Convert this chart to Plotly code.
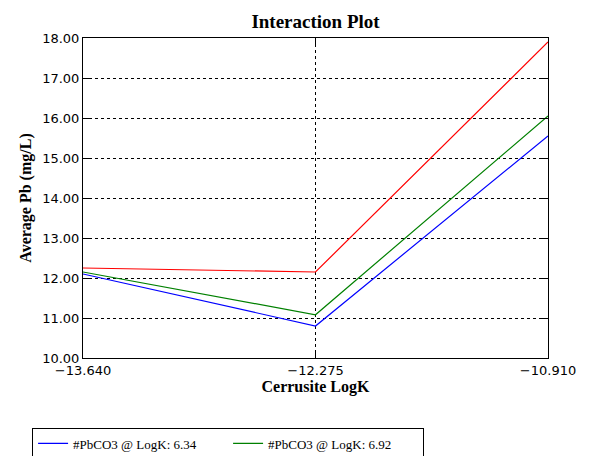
import plotly.graph_objects as go

x_vals = [-13.640, -12.275, -10.910]
tick_text = ["\u221213.640", "\u221212.275", "\u221210.910"]
series_names = ["#PbCO3 @ LogK: 6.34", "#PbCO3 @ LogK: 6.92", "#PbCO3 @ LogK: 7.5"]
blue_vals = [12.10, 10.80, 15.55]
green_vals = [12.15, 11.08, 16.05]
red_vals = [12.25, 12.15, 17.90]
colors = ["blue", "green", "red"]

fig = go.Figure()
for name, vals, c in zip(series_names, [blue_vals, green_vals, red_vals], colors):
    fig.add_trace(go.Scatter(x=x_vals, y=vals, mode="lines", name=name,
                             line=dict(color=c, width=1.2)))

axis_common = dict(showline=True, linecolor="black", linewidth=1, mirror="ticks",
                   ticks="inside", ticklen=6, tickcolor="black", automargin=False,
                   showgrid=True, gridcolor="black", griddash="dot", gridwidth=1,
                   zeroline=False, tickfont=dict(family="DejaVu Sans", size=13, color="black"))

fig.update_xaxes(range=[-13.640, -10.910], tickvals=x_vals, ticktext=tick_text,
                 title=dict(text="<b>Cerrusite LogK</b>", standoff=4,
                            font=dict(family="Liberation Serif", size=16, color="black")),
                 **axis_common)
fig.update_yaxes(range=[10, 18], dtick=1, tickformat=".2f",
                 title=dict(text="<b>Average Pb (mg/L)</b>", standoff=6,
                            font=dict(family="Liberation Serif", size=16, color="black")),
                 **axis_common)

fig.update_layout(
    width=602, height=456,
    margin=dict(l=75, r=62, t=30, b=106, autoexpand=False),
    paper_bgcolor="white", plot_bgcolor="white",
    title=dict(text="<b>Interaction Plot</b>", x=0.5, xref="paper", y=0.985, yanchor="top",
               font=dict(family="Liberation Serif", size=19, color="black")),
    legend=dict(orientation="h", xref="container", yref="container", x=0.04, y=0.08,
                xanchor="left", yanchor="top", bordercolor="black", borderwidth=1,
                entrywidth=150, font=dict(family="Liberation Serif", size=13, color="black")),
)

fig.write_html("out.html")
